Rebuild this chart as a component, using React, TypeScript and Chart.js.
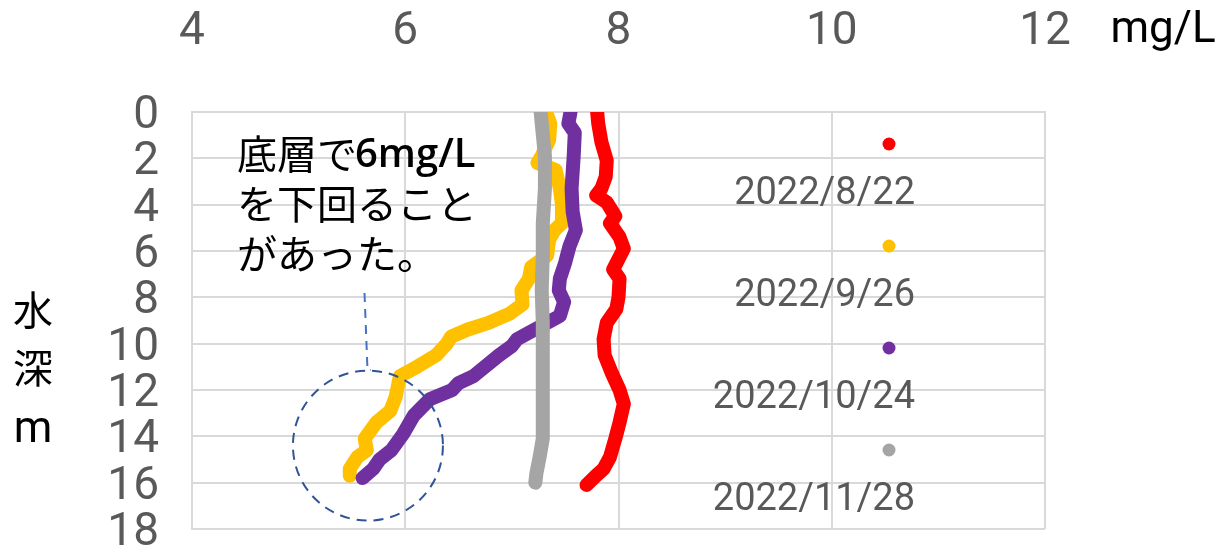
import React, { useEffect, useRef } from "react";
import { Chart, registerables } from "chart.js";

Chart.register(...registerables);

// ---- data ----
const seriesLabels = ["2022/8/22", "2022/9/26", "2022/10/24", "2022/11/28"];
const seriesColors = ["#FF0000", "#FFC000", "#7030A0", "#A5A5A5"];

const depth0822 = [0.0, 0.5, 1.3, 2.1, 2.8, 3.3, 3.6, 3.9, 4.5, 4.8, 5.4, 5.9, 6.8, 7.2, 8.0, 8.5, 9.1, 9.8, 10.5, 11.3, 12.0, 12.6, 13.4, 14.1, 14.9, 15.4, 15.7, 16.1];
const do0822 = [7.80, 7.81, 7.84, 7.89, 7.88, 7.84, 7.79, 7.89, 7.97, 7.92, 8.01, 8.05, 7.95, 8.01, 8.00, 7.98, 7.89, 7.86, 7.87, 7.94, 8.01, 8.05, 8.01, 7.97, 7.92, 7.86, 7.79, 7.70];

const depth0926 = [0.0, 0.5, 1.2, 1.9, 2.2, 2.5, 3.3, 4.0, 4.8, 5.1, 5.5, 6.2, 6.7, 7.2, 7.7, 8.3, 8.7, 9.1, 9.4, 9.7, 10.0, 10.5, 11.0, 11.4, 12.3, 12.9, 13.4, 14.1, 14.6, 14.9, 15.4, 15.7];
const do0926 = [7.32, 7.36, 7.35, 7.28, 7.24, 7.41, 7.45, 7.47, 7.47, 7.40, 7.35, 7.33, 7.18, 7.16, 7.09, 7.10, 6.98, 6.78, 6.58, 6.43, 6.39, 6.29, 6.11, 5.95, 5.91, 5.86, 5.73, 5.62, 5.64, 5.55, 5.48, 5.48];

const depth1024 = [0.0, 0.5, 0.9, 1.9, 3.3, 4.3, 5.1, 5.8, 6.5, 7.2, 7.7, 8.2, 8.8, 9.1, 9.5, 9.8, 10.1, 10.5, 11.1, 11.4, 11.7, 12.0, 12.4, 13.1, 13.9, 14.6, 15.0, 15.4, 15.8];
const do1024 = [7.55, 7.53, 7.59, 7.58, 7.56, 7.57, 7.60, 7.54, 7.50, 7.45, 7.44, 7.49, 7.45, 7.33, 7.17, 7.05, 7.00, 6.88, 6.72, 6.64, 6.50, 6.44, 6.23, 6.08, 5.98, 5.87, 5.76, 5.70, 5.60];

const depth1128 = [0.0, 0.5, 1.9, 3.3, 4.8, 6.2, 7.7, 9.1, 10.5, 12.0, 13.4, 14.1, 14.9, 15.6, 16.0];
const do1128 = [7.27, 7.28, 7.31, 7.31, 7.29, 7.29, 7.28, 7.29, 7.29, 7.29, 7.29, 7.29, 7.26, 7.23, 7.22];

const xTickValues = [4, 6, 8, 10, 12];
const yTickValues = [0, 2, 4, 6, 8, 10, 12, 14, 16, 18];

const xUnitLabel = "mg/L";
const yTitleLines = ["水", "深", "m"];
const noteLine1 = ["底層で", "6mg/L"];
const noteLine2 = "を下回ること";
const noteLine3 = "があった。";

const depthSeries = [depth0822, depth0926, depth1024, depth1128];
const valueSeries = [do0822, do0926, do1024, do1128];

// ---- styles / positions ----
const TICK_COLOR = "#595959";
const GRID_COLOR = "#D9D9D9";
const NOTE_COLOR = "#2F5597";
const LATIN = "Roboto, 'Open Sans', sans-serif";
const CJK = "'Noto Sans CJK JP', sans-serif";

const overlayPlugin = {
  id: "overlay",
  afterDatasetsDraw(chart: any) {
    const ctx: CanvasRenderingContext2D = chart.ctx;
    const xs = chart.scales.x;
    const ys = chart.scales.y;
    ctx.save();

    // legend (dot above label)
    const dotX = 889;
    const dotYs = [144, 246, 348, 450];
    const labelYs = [194, 296, 398, 500];
    for (let i = 0; i < seriesLabels.length; i++) {
      ctx.beginPath();
      ctx.fillStyle = seriesColors[i];
      ctx.arc(dotX, dotYs[i], 6.5, 0, Math.PI * 2);
      ctx.fill();
      ctx.fillStyle = TICK_COLOR;
      ctx.font = `38px ${LATIN}`;
      ctx.textAlign = "right";
      ctx.textBaseline = "middle";
      ctx.fillText(seriesLabels[i], 915, labelYs[i]);
    }

    // annotation text
    ctx.fillStyle = "#000000";
    ctx.textAlign = "left";
    ctx.textBaseline = "middle";
    ctx.font = `40px ${CJK}`;
    ctx.fillText(noteLine1[0], 237, 154);
    const w1 = ctx.measureText(noteLine1[0]).width;
    ctx.font = `600 40px 'Open Sans', sans-serif`;
    ctx.fillText(noteLine1[1], 237 + w1 - 2, 156);
    ctx.font = `40px ${CJK}`;
    ctx.fillText(noteLine2, 237, 204);
    ctx.fillText(noteLine3, 237, 254);

    // dashed circle around bottom of two profiles
    const cx = xs.getPixelForValue(5.65);
    const cy = ys.getPixelForValue(14.4);
    ctx.strokeStyle = NOTE_COLOR;
    ctx.lineWidth = 2;
    ctx.setLineDash([10, 7]);
    ctx.beginPath();
    ctx.arc(cx, cy, 75, 0, Math.PI * 2);
    ctx.stroke();

    // leader line
    ctx.strokeStyle = "#4472C4";
    ctx.setLineDash([9, 7]);
    ctx.beginPath();
    ctx.moveTo(364.5, 293);
    ctx.lineTo(367.5, 370);
    ctx.lineTo(371, 370);
    ctx.stroke();
    ctx.setLineDash([]);
    ctx.restore();
  },
  afterDraw(chart: any) {
    const ctx: CanvasRenderingContext2D = chart.ctx;
    ctx.save();
    ctx.fillStyle = "#000000";
    ctx.textAlign = "center";
    ctx.textBaseline = "middle";
    ctx.font = `44px ${LATIN}`;
    ctx.fillText(xUnitLabel, 1163, 31);
    ctx.font = `40px ${CJK}`;
    ctx.fillText(yTitleLines[0], 33, 310);
    ctx.fillText(yTitleLines[1], 33, 368);
    ctx.font = `44px ${LATIN}`;
    ctx.fillText(yTitleLines[2], 33, 431);
    ctx.restore();
  },
};

export default function App() {
  const canvasRef = useRef<HTMLCanvasElement | null>(null);

  useEffect(() => {
    const canvas = canvasRef.current;
    if (!canvas) return;
    const datasets = seriesLabels.map((label, i) => ({
      label,
      data: depthSeries[i].map((d, j) => ({ x: valueSeries[i][j], y: d })),
      showLine: true,
      borderColor: seriesColors[i],
      backgroundColor: seriesColors[i],
      borderWidth: 14,
      borderCapStyle: "round" as const,
      borderJoinStyle: "round" as const,
      pointRadius: 0,
      pointHoverRadius: 0,
      tension: 0,
      order: seriesLabels.length - i,
    }));

    const chart = new Chart(canvas, {
      type: "scatter",
      data: { datasets },
      options: {
        responsive: false,
        animation: false,
        events: [],
        layout: { padding: { left: 0, right: 183, top: 0, bottom: 26 } },
        plugins: {
          legend: { display: false },
          tooltip: { enabled: false },
        },
        scales: {
          x: {
            type: "linear",
            position: "top",
            min: 4,
            max: 12,
            afterBuildTicks: (scale: any) => {
              scale.ticks = xTickValues.map((v) => ({ value: v }));
            },
            afterFit: (scale: any) => {
              scale.height = 112;
            },
            ticks: {
              color: TICK_COLOR,
              font: { family: LATIN, size: 46 },
              padding: 0,
              autoSkip: false,
              maxRotation: 0,
            },
            grid: {
              color: GRID_COLOR,
              lineWidth: 2,
              drawTicks: true,
              tickLength: 52,
              tickColor: "rgba(0,0,0,0)",
            },
            border: { display: true, color: GRID_COLOR, width: 2 },
          },
          y: {
            type: "linear",
            position: "left",
            reverse: true,
            min: 0,
            max: 18,
            afterBuildTicks: (scale: any) => {
              scale.ticks = yTickValues.map((v) => ({ value: v }));
            },
            afterFit: (scale: any) => {
              scale.width = 192;
            },
            ticks: {
              color: TICK_COLOR,
              font: { family: LATIN, size: 46, lineHeight: "9px" },
              padding: 0,
              autoSkip: false,
              callback: (v: any) => ["", String(v)],
            },
            grid: {
              color: GRID_COLOR,
              lineWidth: 2,
              drawTicks: true,
              tickLength: 33,
              tickColor: "rgba(0,0,0,0)",
            },
            border: { display: true, color: GRID_COLOR, width: 2 },
          },
        },
      },
      plugins: [overlayPlugin],
    });
    return () => chart.destroy();
  }, []);

  return (
    <div style={{ position: "absolute", left: 0, top: 0, width: 1228, height: 555, background: "#ffffff" }}>
      <canvas ref={canvasRef} width={1228} height={555} style={{ display: "block" }} />
    </div>
  );
}
